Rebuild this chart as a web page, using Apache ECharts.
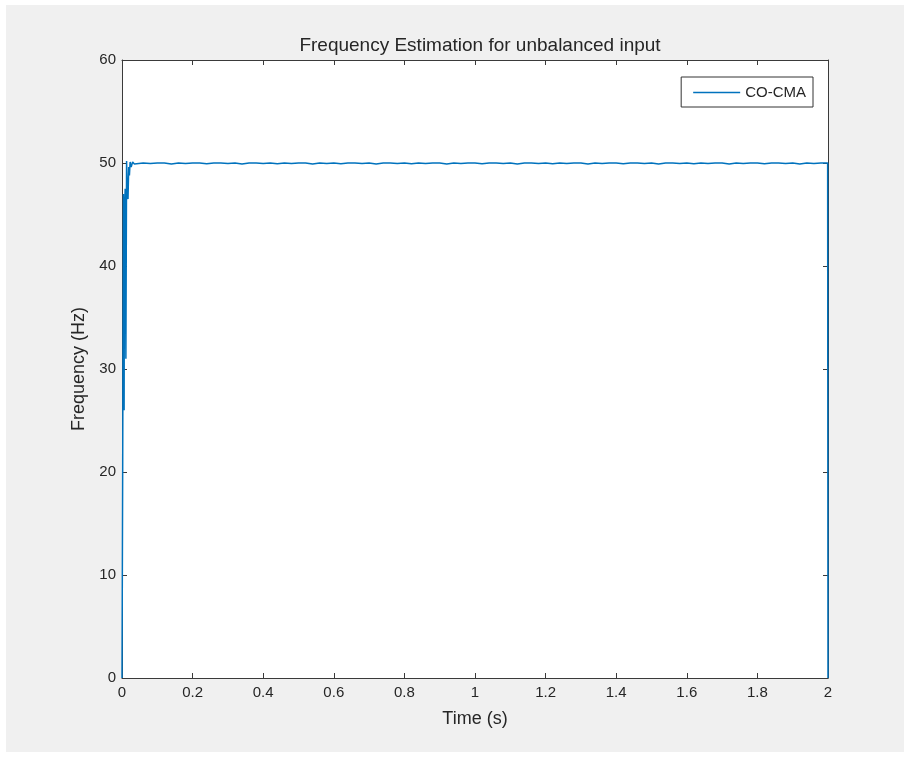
<!DOCTYPE html>
<html>
<head>
<meta charset="utf-8">
<script src="https://cdn.jsdelivr.net/npm/echarts@6/dist/echarts.min.js"></script>
<style>
  html, body { margin: 0; padding: 0; background: #ffffff; }
  #chart { width: 904px; height: 758px; }
</style>
</head>
<body>
<div id="chart"></div>
<script>
// Start-up transient of the frequency estimate (time in s, frequency in Hz)
const startTimes = [0.000, 0.002, 0.004, 0.005, 0.006, 0.007, 0.009, 0.011, 0.013, 0.015,
                    0.017, 0.019, 0.021, 0.023, 0.026, 0.030, 0.035, 0.040];
const startFreq  = [0, 21, 47, 40, 26, 45, 47.5, 31, 50.2, 47,
                    46.5, 49.6, 48.8, 50.1, 49.6, 50.1, 49.9, 50.0];

// Steady-state estimate, sampled every 0.02 s from 0.06 s
const steadyStart = 0.06;
const steadyStep = 0.02;
const steadyFreq = [
  50.0, 49.95, 50.0, 50.0, 49.9, 50.0, 49.95, 50.0, 50.0, 49.93,
  50.0, 50.0, 49.95, 50.0, 49.9, 50.0, 50.0, 49.95, 50.0, 49.93,
  50.0, 49.95, 50.0, 50.0, 49.9, 50.0, 49.95, 50.0, 49.93, 50.0,
  50.0, 49.95, 50.0, 49.9, 50.0, 50.0, 49.95, 50.0, 49.93, 50.0,
  49.95, 50.0, 50.0, 49.9, 50.0, 49.95, 50.0, 50.0, 49.93, 50.0,
  50.0, 49.95, 50.0, 49.9, 50.0, 50.0, 49.95, 50.0, 49.93, 50.0,
  49.95, 50.0, 50.0, 49.9, 50.0, 49.95, 50.0, 50.0, 49.93, 50.0,
  50.0, 49.95, 50.0, 49.9, 50.0, 50.0, 49.95, 50.0, 49.93, 50.0,
  49.95, 50.0, 50.0, 49.9, 50.0, 49.95, 50.0, 50.0, 49.93, 50.0,
  50.0, 49.95, 50.0, 49.9, 50.0, 49.95, 50.0
];

// Last samples: the estimate falls to zero at the end of the record
const endTimes = [1.999, 2.0];
const endFreq  = [50.0, 0];

const seriesName = 'CO-CMA';

const points = [];
startTimes.forEach((t, i) => points.push([t, startFreq[i]]));
steadyFreq.forEach((f, i) => points.push([+(steadyStart + i * steadyStep).toFixed(3), f]));
endTimes.forEach((t, i) => points.push([t, endFreq[i]]));

const textColor = '#262626';
const axisColor = '#3a3a3a';
const fontFamily = '"Liberation Sans", Arial, Helvetica, sans-serif';

const chart = echarts.init(document.getElementById('chart'));

const boxAxis = (extra) => Object.assign({
  type: 'value',
  axisLine: { show: true, onZero: false, lineStyle: { color: axisColor, width: 1 } },
  axisTick: { show: true, inside: true, length: 5, lineStyle: { color: axisColor, width: 1 } },
  splitLine: { show: false },
  axisLabel: { show: false }
}, extra);

chart.setOption({
  animation: false,
  backgroundColor: '#ffffff',
  textStyle: { fontFamily: fontFamily },
  graphic: [{
    type: 'rect',
    z: -10,
    shape: { x: 6, y: 5, width: 898, height: 747 },
    style: { fill: '#f0f0f0' },
    silent: true
  }],
  title: {
    text: 'Frequency Estimation for unbalanced input',
    left: 475,
    textAlign: 'center',
    top: 31,
    textStyle: { fontSize: 19, fontWeight: 'normal', color: textColor, fontFamily: fontFamily }
  },
  legend: {
    data: [seriesName],
    right: 91,
    top: 77,
    orient: 'vertical',
    padding: [8, 7, 7, 12],
    backgroundColor: '#ffffff',
    borderColor: '#333333',
    borderWidth: 1,
    borderRadius: 0,
    icon: 'rect',
    itemWidth: 47,
    itemHeight: 1.5,
    itemGap: 4,
    textStyle: { fontSize: 15, color: textColor, fontFamily: fontFamily }
  },
  grid: {
    left: 122, right: 76, top: 60, bottom: 80,
    show: true, backgroundColor: '#ffffff', borderWidth: 0
  },
  xAxis: [
    boxAxis({
      min: 0, max: 2, interval: 0.2,
      position: 'bottom',
      name: 'Time (s)',
      nameLocation: 'middle',
      nameGap: 32,
      nameTextStyle: { fontSize: 18, color: textColor, fontFamily: fontFamily },
      axisLabel: { show: true, fontSize: 15, color: textColor, margin: 7, fontFamily: fontFamily }
    }),
    boxAxis({ min: 0, max: 2, interval: 0.2, position: 'top' })
  ],
  yAxis: [
    boxAxis({
      min: 0, max: 60, interval: 10,
      position: 'left',
      name: 'Frequency (Hz)',
      nameLocation: 'middle',
      nameGap: 33,
      nameTextStyle: { fontSize: 18, color: textColor, fontFamily: fontFamily },
      axisLabel: { show: true, fontSize: 15, color: textColor, margin: 6, fontFamily: fontFamily }
    }),
    boxAxis({ min: 0, max: 60, interval: 10, position: 'right' })
  ],
  series: [{
    name: seriesName,
    type: 'line',
    xAxisIndex: 0,
    yAxisIndex: 0,
    data: points,
    showSymbol: false,
    symbol: 'none',
    color: '#0072BD',
    lineStyle: { color: '#0072BD', width: 1.5 },
    z: 1
  }]
});
</script>
</body>
</html>
